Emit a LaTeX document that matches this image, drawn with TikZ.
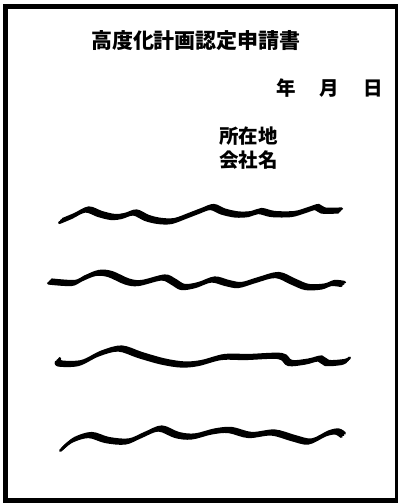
\documentclass[tikz,border=0pt]{standalone}
\usepackage{fontspec}
\newfontfamily\jpfont{Noto Sans CJK JP}
\tikzset{
every node/.style={inner sep=0pt, font=\jpfont\bfseries},
titletext/.style={font=\jpfont\bfseries\fontsize{21pt}{21pt}\selectfont},
smalltext/.style={font=\jpfont\bfseries\fontsize{19.5pt}{19.5pt}\selectfont},
scribble/.style={line width=2.8pt, line cap=round, line join=round,
  preaction={draw, line width=2.8pt, line cap=round, transform canvas={shift={(1.7pt,1.7pt)}}},
  postaction={draw, line width=2.8pt, line cap=round, transform canvas={shift={(-1.7pt,-1.7pt)}}}}
}

\begin{document}
\begin{tikzpicture}[x=1pt, y=-1pt]
\useasboundingbox (0,0) rectangle (397,504);
\draw[line width=5pt] (5.5,6.5) rectangle (397.5,500.5);

\node [titletext] (title) at (196,41) {高度化計画認定申請書};
\node [smalltext] (date) at (329.5,88.5) {年\hspace{24pt}月\hspace{24pt}日};
\node [smalltext] (addr) at (248.5,136) {所在地};
\node [smalltext] (firm) at (248.5,160.5) {会社名};

% scribbled lines
\draw[scribble] plot[smooth, tension=0.55] coordinates {(61,221) (73,216) (87,209.5) (100,214) (113,217) (123,216) (135,212.5) (147,218) (160,221) (173,221) (187,216) (200,211) (212,207) (223,211.5) (237,214.5) (250,214) (260,211) (273,214) (293,214) (307,210) (317,207) (323,210.5) (340,210.5)};
\draw[scribble] plot[smooth, tension=0.55] coordinates {(50,281.5) (73,283) (83,278.5) (97,273) (110,274) (127,281.5) (140,283) (163,277.5) (173,281.5) (183,287) (197,285) (213,279.5) (227,283) (240,285) (257,280) (277,275) (293,281.5) (307,287) (323,286.5) (333,283) (343,284)};
\draw[scribble] plot[smooth, tension=0.55] coordinates {(58,360) (60,363.5) (80,363) (100,353.5) (120,348.5) (140,355) (163,361.5) (183,364.5) (200,363) (223,357) (247,357) (280,356) (290,363) (307,361.5) (320,358.5) (327,363) (343,362) (348,359.5)};
\draw[scribble] plot[smooth, tension=0.55] coordinates {(62,449) (73,440) (90,435) (107,440) (127,441.5) (143,435) (160,428.5) (177,435) (193,436.5) (213,431.5) (230,430) (250,435) (273,432.5) (293,438) (310,441.5) (327,433.5) (337,431.5) (343,435)};
\end{tikzpicture}
\end{document}
